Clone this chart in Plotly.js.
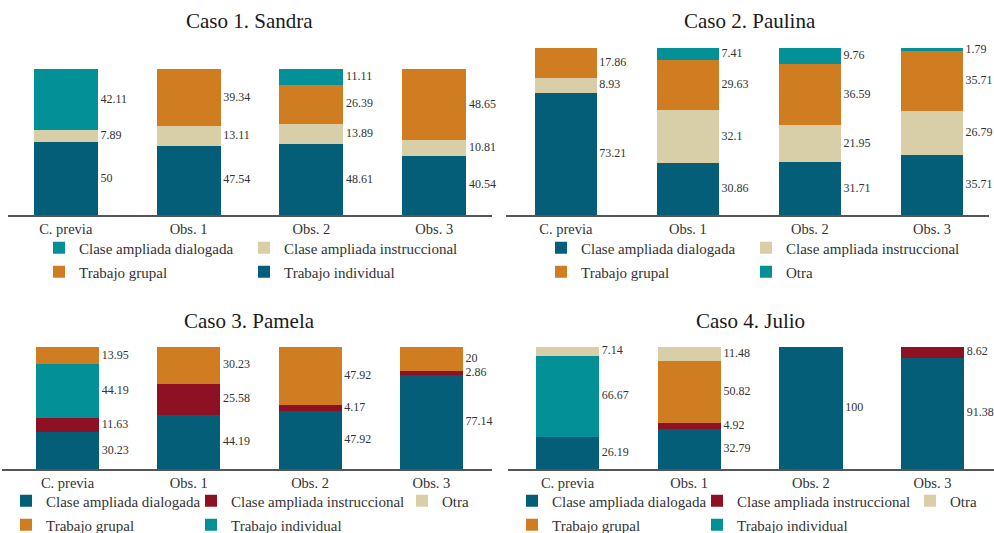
<!DOCTYPE html>
<html>
<head>
<meta charset="utf-8">
<script src="https://cdn.plot.ly/plotly-3.0.1.min.js"></script>
<style>html,body{margin:0;padding:0;background:#fff;}#chart{width:994px;height:533px;}</style>
</head>
<body>
<div id="chart"></div>
<script>
// ---------- DATA ----------
const categories = ['C. previa', 'Obs. 1', 'Obs. 2', 'Obs. 3'];
const titles = ['Caso 1. Sandra', 'Caso 2. Paulina', 'Caso 3. Pamela', 'Caso 4. Julio'];

// Case 1 (stack order bottom -> top)
const case1_trabajoIndividual   = [50, 47.54, 48.61, 40.54];
const case1_claseInstruccional  = [7.89, 13.11, 13.89, 10.81];
const case1_trabajoGrupal       = [0, 39.34, 26.39, 48.65];
const case1_claseDialogada      = [42.11, 0, 11.11, 0];

// Case 2
const case2_claseDialogada      = [73.21, 30.86, 31.71, 35.71];
const case2_claseInstruccional  = [8.93, 32.1, 21.95, 26.79];
const case2_trabajoGrupal       = [17.86, 29.63, 36.59, 35.71];
const case2_otra                = [0, 7.41, 9.76, 1.79];

// Case 3
const case3_claseDialogada      = [30.23, 44.19, 47.92, 77.14];
const case3_claseInstruccional  = [11.63, 25.58, 4.17, 2.86];
const case3_trabajoIndividual   = [44.19, 0, 0, 0];
const case3_trabajoGrupal       = [13.95, 30.23, 47.92, 20];
const case3_otra                = [0, 0, 0, 0];

// Case 4
const case4_claseDialogada      = [26.19, 32.79, 100, 91.38];
const case4_claseInstruccional  = [0, 4.92, 0, 8.62];
const case4_trabajoIndividual   = [66.67, 0, 0, 0];
const case4_trabajoGrupal       = [0, 50.82, 0, 0];
const case4_otra                = [7.14, 11.48, 0, 0];

const N_CAD = 'Clase ampliada dialogada';
const N_CAI = 'Clase ampliada instruccional';
const N_TG = 'Trabajo grupal';
const N_TI = 'Trabajo individual';
const N_OT = 'Otra';

// ---------- STYLE ----------
const DARK = '#045e78', TEAL = '#049097', BEIGE = '#d8cfa9', ORANGE = '#d07c20', RED = '#8e1023';
const FONT = '"Liberation Serif", serif';
const TXT = '#333333';
const W = 994, H = 533;
const px = v => v / W;
const py = v => 1 - v / H;
const LEG_OFF = 20;   // item origin -> swatch left

// series: [name, values, color, legendSwatchLeftPx, legendRowCenterPx]
const cases = [
  { series: [
      [N_TI, case1_trabajoIndividual, DARK, 264, 272],
      [N_CAI, case1_claseInstruccional, BEIGE, 264, 248],
      [N_TG, case1_trabajoGrupal, ORANGE, 59, 272],
      [N_CAD, case1_claseDialogada, TEAL, 59, 248]],
    xdom: [8, 492], xr: [-0.47, 3.47], ydom: [215, 69], bw: 0.52, title: [250, 21] },
  { series: [
      [N_CAD, case2_claseDialogada, DARK, 561, 248],
      [N_CAI, case2_claseInstruccional, BEIGE, 766, 248],
      [N_TG, case2_trabajoGrupal, ORANGE, 561, 272],
      [N_OT, case2_otra, TEAL, 766, 272]],
    xdom: [506, 989], xr: [-0.49, 3.467], ydom: [215, 48], bw: 0.505, title: [750, 21] },
  { series: [
      [N_CAD, case3_claseDialogada, DARK, 26, 501],
      [N_CAI, case3_claseInstruccional, RED, 211, 501],
      [N_TI, case3_trabajoIndividual, TEAL, 211, 525],
      [N_TG, case3_trabajoGrupal, ORANGE, 26, 525],
      [N_OT, case3_otra, BEIGE, 422, 501]],
    xdom: [2, 492], xr: [-0.54, 3.5], ydom: [469, 347], bw: 0.52, title: [250, 321] },
  { series: [
      [N_CAD, case4_claseDialogada, DARK, 532, 501],
      [N_CAI, case4_claseInstruccional, RED, 717, 501],
      [N_TI, case4_trabajoIndividual, TEAL, 717, 525],
      [N_TG, case4_trabajoGrupal, ORANGE, 532, 525],
      [N_OT, case4_otra, BEIGE, 930, 501]],
    xdom: [508, 994], xr: [-0.489, 3.505], ydom: [469, 347], bw: 0.52, title: [750, 321] }
];

const xpos = categories.map((c, i) => i);
const data = [];
const layout = {
  width: W, height: H, autosize: false,
  margin: { l: 0, r: 0, t: 0, b: 0, pad: 0, autoexpand: false },
  paper_bgcolor: '#ffffff', plot_bgcolor: 'rgba(0,0,0,0)',
  barmode: 'stack',
  font: { family: FONT, color: TXT, size: 15 },
  annotations: [],
  hovermode: false
};

let legendCount = 0;
cases.forEach((cs, k) => {
  const sfx = k === 0 ? '' : String(k + 1);
  const xa = 'x' + sfx, ya = 'y' + sfx;
  layout['xaxis' + sfx] = {
    domain: [px(cs.xdom[0]), px(cs.xdom[1])], range: cs.xr, anchor: ya,
    tickmode: 'array', tickvals: xpos, ticktext: categories,
    tickfont: { family: FONT, size: 14.5, color: TXT },
    showline: true, linecolor: '#555555', linewidth: 1.6,
    ticks: '', showgrid: false, zeroline: false, fixedrange: true, automargin: false
  };
  layout['yaxis' + sfx] = {
    domain: [py(cs.ydom[0]), py(cs.ydom[1])], range: [0, 100], anchor: xa,
    visible: false, showgrid: false, zeroline: false, fixedrange: true
  };
  layout.annotations.push({
    text: titles[k], xref: 'paper', yref: 'paper', x: px(cs.title[0]), y: py(cs.title[1]),
    xanchor: 'center', yanchor: 'middle', showarrow: false,
    font: { family: FONT, size: 21, color: '#1a1a1a' }
  });
  const cum = [0, 0, 0, 0];
  cs.series.forEach(s => {
    const [name, vals, color, lx, ly] = s;
    legendCount++;
    const lid = legendCount === 1 ? 'legend' : 'legend' + legendCount;
    layout[lid] = {
      x: px(lx - LEG_OFF), y: py(ly), xanchor: 'left', yanchor: 'middle',
      orientation: 'v', bgcolor: 'rgba(0,0,0,0)', borderwidth: 0,
      font: { family: FONT, size: 15, color: TXT }, itemclick: false, itemdoubleclick: false
    };
    data.push({
      type: 'bar', name: name, x: xpos, y: vals, xaxis: xa, yaxis: ya,
      width: cs.bw, marker: { color: color, line: { width: 0 } },
      legend: lid, showlegend: true, hoverinfo: 'skip'
    });
    const mids = vals.map((v, i) => cum[i] + v / 2);
    vals.forEach((v, i) => { cum[i] += v; });
    data.push({
      type: 'scatter', mode: 'text', x: xpos.map(i => i + cs.bw / 2 + 0.022), y: mids,
      text: vals.map(v => (v > 0 ? String(v) : '')), textposition: 'middle right',
      textfont: { family: FONT, size: 12, color: TXT },
      xaxis: xa, yaxis: ya, showlegend: false, hoverinfo: 'skip', cliponaxis: false
    });
  });
});

Plotly.newPlot('chart', data, layout, { staticPlot: true, displayModeBar: false });
</script>
</body>
</html>
